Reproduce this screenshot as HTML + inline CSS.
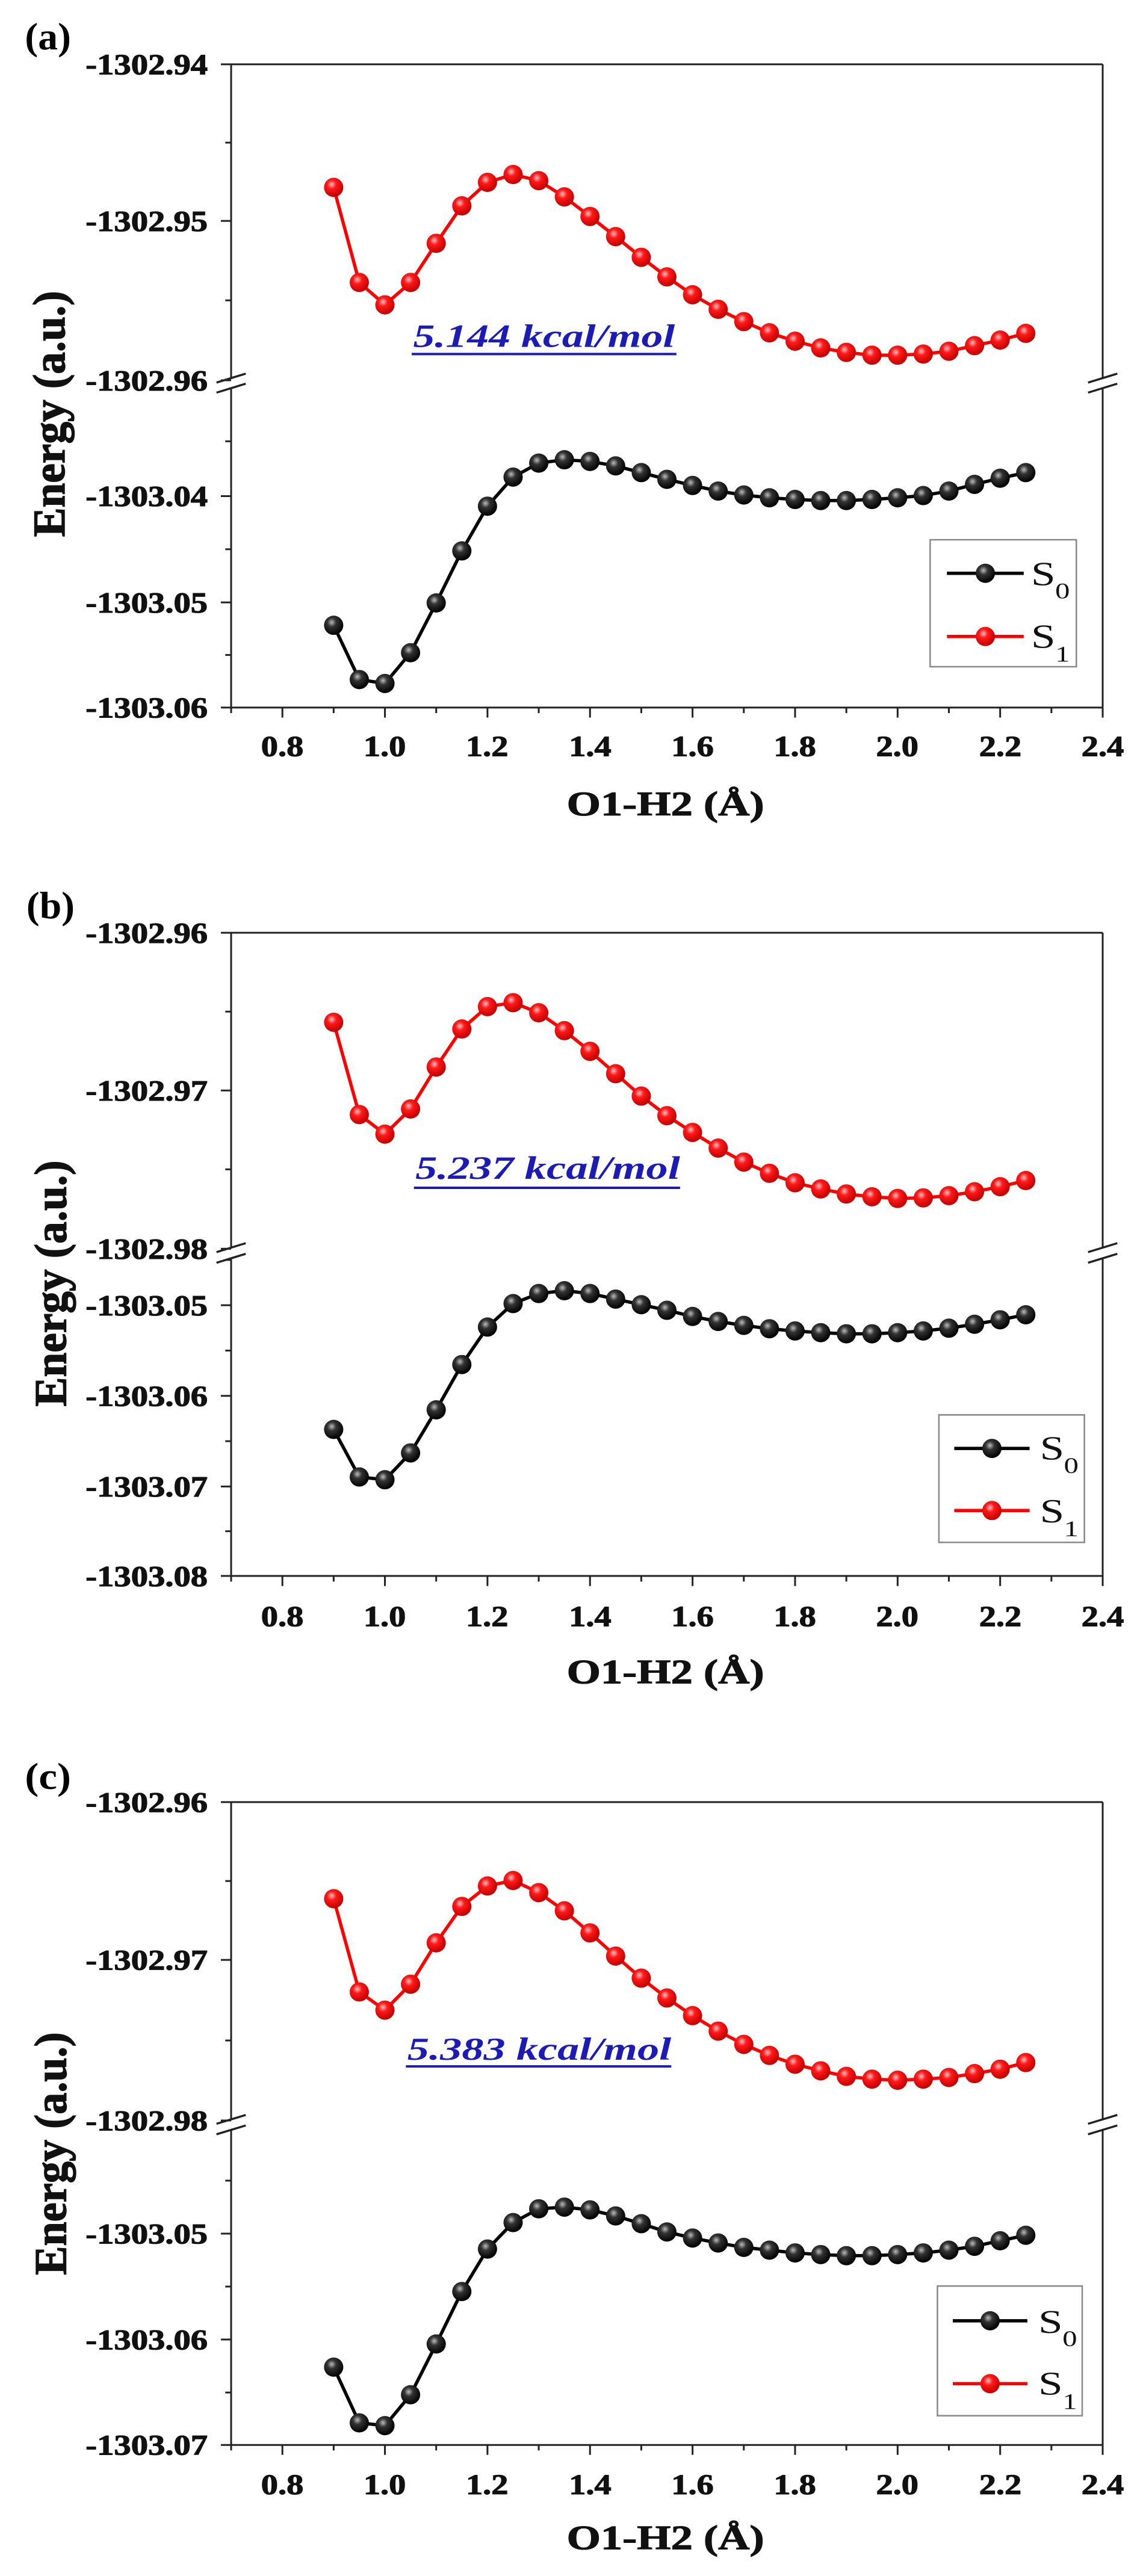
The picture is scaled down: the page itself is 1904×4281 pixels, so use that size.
<!DOCTYPE html>
<html><head><meta charset="utf-8"><style>
html,body{margin:0;padding:0;background:#fff;}
svg{display:block;}
text{font-family:"Liberation Serif","Times New Roman",serif;}
.tk{font-size:52px;font-weight:bold;fill:#111;stroke:#111;stroke-width:1.2px;}
.tt{font-size:62px;font-weight:bold;fill:#111;stroke:#111;stroke-width:1.2px;}
.an{font-size:58px;font-weight:bold;font-style:italic;fill:#1c1cb4;}
.lg{font-size:60px;fill:#111;}
.sb{font-size:40px;fill:#111;}
</style></head><body>
<svg id="s" width="1904" height="4281" viewBox="0 0 1904 4281" xmlns="http://www.w3.org/2000/svg">
<defs>
<radialGradient id="gk" cx="0.4" cy="0.35" r="0.65"><stop offset="0" stop-color="#bbb"/><stop offset="0.35" stop-color="#333"/><stop offset="1" stop-color="#000"/></radialGradient>
<radialGradient id="gr" cx="0.4" cy="0.35" r="0.65"><stop offset="0" stop-color="#ffc0c0"/><stop offset="0.35" stop-color="#ff1a1a"/><stop offset="1" stop-color="#c00000"/></radialGradient>
</defs>
<rect width="1904" height="4281" fill="#fff"/>

<g id="pa" transform="translate(0.12,0) scale(1.2148,0.9295)">
<text x="34" y="88" font-size="68" font-weight="bold" textLength="63" lengthAdjust="spacingAndGlyphs">(a)</text>
<text class="tk" x="284" y="133" text-anchor="end" textLength="167" lengthAdjust="spacingAndGlyphs">-1302.94</text>
<text class="tk" x="284" y="413" text-anchor="end" textLength="167" lengthAdjust="spacingAndGlyphs">-1302.95</text>
<text class="tk" x="284" y="698" text-anchor="end" textLength="167" lengthAdjust="spacingAndGlyphs">-1302.96</text>
<text class="tk" x="284" y="905" text-anchor="end" textLength="167" lengthAdjust="spacingAndGlyphs">-1303.04</text>
<text class="tk" x="284" y="1095" text-anchor="end" textLength="167" lengthAdjust="spacingAndGlyphs">-1303.05</text>
<text class="tk" x="284" y="1283" text-anchor="end" textLength="167" lengthAdjust="spacingAndGlyphs">-1303.06</text>
<text class="tt" x="910" y="1458" text-anchor="middle" textLength="270" lengthAdjust="spacingAndGlyphs">O1-H2 (Å)</text>
<text class="tt" transform="translate(88,740) rotate(-90)" text-anchor="middle" font-size="72" textLength="440" lengthAdjust="spacingAndGlyphs">Energy (a.u.)</text>
<text class="an" x="565" y="620" textLength="358" lengthAdjust="spacingAndGlyphs">5.144 kcal/mol</text>
<text class="lg" x="1410" y="1046">S</text><text class="sb" x="1443" y="1070">0</text>
<text class="lg" x="1410" y="1158">S</text><text class="sb" x="1443" y="1183">1</text>
</g>

<g id="pb" transform="translate(0.12,1420) scale(1.2148,0.9295)">
<text x="36" y="114" font-size="68" font-weight="bold" textLength="66" lengthAdjust="spacingAndGlyphs">(b)</text>
<text class="tk" x="284" y="158" text-anchor="end" textLength="167" lengthAdjust="spacingAndGlyphs">-1302.96</text>
<text class="tk" x="284" y="440" text-anchor="end" textLength="167" lengthAdjust="spacingAndGlyphs">-1302.97</text>
<text class="tk" x="284" y="723" text-anchor="end" textLength="167" lengthAdjust="spacingAndGlyphs">-1302.98</text>
<text class="tk" x="284" y="824" text-anchor="end" textLength="167" lengthAdjust="spacingAndGlyphs">-1303.05</text>
<text class="tk" x="284" y="986" text-anchor="end" textLength="167" lengthAdjust="spacingAndGlyphs">-1303.06</text>
<text class="tk" x="284" y="1148" text-anchor="end" textLength="167" lengthAdjust="spacingAndGlyphs">-1303.07</text>
<text class="tk" x="284" y="1308" text-anchor="end" textLength="167" lengthAdjust="spacingAndGlyphs">-1303.08</text>
<text class="tt" x="910" y="1482" text-anchor="middle" textLength="270" lengthAdjust="spacingAndGlyphs">O1-H2 (Å)</text>
<text class="tt" transform="translate(90,767) rotate(-90)" text-anchor="middle" font-size="72" textLength="440" lengthAdjust="spacingAndGlyphs">Energy (a.u.)</text>
<text class="an" x="568" y="580" textLength="362" lengthAdjust="spacingAndGlyphs">5.237 kcal/mol</text>
<text class="lg" x="1422" y="1082">S</text><text class="sb" x="1455" y="1106">0</text>
<text class="lg" x="1422" y="1194">S</text><text class="sb" x="1455" y="1219">1</text>
</g>

<g id="pc" transform="translate(0.12,2850) scale(1.2148,0.917)">
<text x="34" y="134" font-size="68" font-weight="bold" textLength="63" lengthAdjust="spacingAndGlyphs">(c)</text>
<text class="tk" x="284" y="176" text-anchor="end" textLength="167" lengthAdjust="spacingAndGlyphs">-1302.96</text>
<text class="tk" x="284" y="462" text-anchor="end" textLength="167" lengthAdjust="spacingAndGlyphs">-1302.97</text>
<text class="tk" x="284" y="753" text-anchor="end" textLength="167" lengthAdjust="spacingAndGlyphs">-1302.98</text>
<text class="tk" x="284" y="958" text-anchor="end" textLength="167" lengthAdjust="spacingAndGlyphs">-1303.05</text>
<text class="tk" x="284" y="1150" text-anchor="end" textLength="167" lengthAdjust="spacingAndGlyphs">-1303.06</text>
<text class="tk" x="284" y="1341" text-anchor="end" textLength="167" lengthAdjust="spacingAndGlyphs">-1303.07</text>
<text class="tt" x="910" y="1512" text-anchor="middle" textLength="270" lengthAdjust="spacingAndGlyphs">O1-H2 (Å)</text>
<text class="tt" transform="translate(90,795) rotate(-90)" text-anchor="middle" font-size="72" textLength="440" lengthAdjust="spacingAndGlyphs">Energy (a.u.)</text>
<text class="an" x="557" y="625" textLength="361" lengthAdjust="spacingAndGlyphs">5.383 kcal/mol</text>
<text class="lg" x="1420" y="1120">S</text><text class="sb" x="1453" y="1144">0</text>
<text class="lg" x="1420" y="1232">S</text><text class="sb" x="1453" y="1258">1</text>
</g>

<g transform="translate(0.12,0) scale(1.2148,0.9295)" class="tk" text-anchor="middle">
<text x="386" y="1352" textLength="58" lengthAdjust="spacingAndGlyphs">0.8</text><text x="526" y="1352" textLength="58" lengthAdjust="spacingAndGlyphs">1.0</text><text x="666" y="1352" textLength="58" lengthAdjust="spacingAndGlyphs">1.2</text><text x="807" y="1352" textLength="58" lengthAdjust="spacingAndGlyphs">1.4</text><text x="947" y="1352" textLength="58" lengthAdjust="spacingAndGlyphs">1.6</text><text x="1087" y="1352" textLength="58" lengthAdjust="spacingAndGlyphs">1.8</text><text x="1227" y="1352" textLength="58" lengthAdjust="spacingAndGlyphs">2.0</text><text x="1368" y="1352" textLength="58" lengthAdjust="spacingAndGlyphs">2.2</text><text x="1508" y="1352" textLength="58" lengthAdjust="spacingAndGlyphs">2.4</text>
</g>
<g transform="translate(0.12,1420) scale(1.2148,0.9295)" class="tk" text-anchor="middle">
<text x="386" y="1380" textLength="58" lengthAdjust="spacingAndGlyphs">0.8</text><text x="526" y="1380" textLength="58" lengthAdjust="spacingAndGlyphs">1.0</text><text x="666" y="1380" textLength="58" lengthAdjust="spacingAndGlyphs">1.2</text><text x="807" y="1380" textLength="58" lengthAdjust="spacingAndGlyphs">1.4</text><text x="947" y="1380" textLength="58" lengthAdjust="spacingAndGlyphs">1.6</text><text x="1087" y="1380" textLength="58" lengthAdjust="spacingAndGlyphs">1.8</text><text x="1227" y="1380" textLength="58" lengthAdjust="spacingAndGlyphs">2.0</text><text x="1368" y="1380" textLength="58" lengthAdjust="spacingAndGlyphs">2.2</text><text x="1508" y="1380" textLength="58" lengthAdjust="spacingAndGlyphs">2.4</text>
</g>
<g transform="translate(0.12,2850) scale(1.2148,0.917)" class="tk" text-anchor="middle">
<text x="386" y="1412" textLength="58" lengthAdjust="spacingAndGlyphs">0.8</text><text x="526" y="1412" textLength="58" lengthAdjust="spacingAndGlyphs">1.0</text><text x="666" y="1412" textLength="58" lengthAdjust="spacingAndGlyphs">1.2</text><text x="807" y="1412" textLength="58" lengthAdjust="spacingAndGlyphs">1.4</text><text x="947" y="1412" textLength="58" lengthAdjust="spacingAndGlyphs">1.6</text><text x="1087" y="1412" textLength="58" lengthAdjust="spacingAndGlyphs">1.8</text><text x="1227" y="1412" textLength="58" lengthAdjust="spacingAndGlyphs">2.0</text><text x="1368" y="1412" textLength="58" lengthAdjust="spacingAndGlyphs">2.2</text><text x="1508" y="1412" textLength="58" lengthAdjust="spacingAndGlyphs">2.4</text>
</g>
</svg>
<script>
var NS="http://www.w3.org/2000/svg";
function el(p,t,a){var e=document.createElementNS(NS,t);for(var k in a)e.setAttribute(k,a[k]);p.appendChild(e);return e;}
var P=[
{id:'pa',sy:0.9295,top:115,bot:1265,brk:[676,694],maj:[115,395,680,887,1077,1265],min:[255,537,789,982,1171],
s1:[335,505,545,505,435,368,326,312,323,352,387,423,460,495,527,553,575,595,610,622,630,635,635,633,628,618,608,596],
s0:[1118,1215,1222,1167,1078,985,905,853,828,822,825,833,845,857,868,878,885,890,893,895,895,893,890,886,878,866,855,845],
lb:[1272,965,1472,1192],ly:[1025,1138],lx:[1295,1400],ul:[563,925,633]},
{id:'pb',sy:0.9295,top:140,bot:1290,brk:[703,722],maj:[140,422,705,806,968,1130,1290],min:[281,563,725,887,1049,1210],
s1:[300,465,500,455,380,312,272,265,283,315,352,392,432,467,497,525,550,570,587,598,607,612,615,614,610,603,594,583],
s0:[1028,1113,1118,1070,993,912,845,803,785,780,785,795,805,815,826,835,842,848,852,855,857,857,855,852,847,840,832,823],
lb:[1284,1002,1483,1230],ly:[1062,1173],lx:[1305,1408],ul:[566,930,596]},
{id:'pc',sy:0.917,top:158,bot:1323,brk:[733,752],maj:[158,444,735,940,1132,1323],min:[301,590,844,1036,1228],
s1:[333,502,535,488,413,347,310,300,322,355,395,437,477,513,545,573,597,617,633,645,655,660,662,660,657,650,642,630],
s0:[1182,1283,1288,1232,1140,1045,968,920,895,892,897,908,922,937,948,957,965,970,975,978,980,980,978,975,970,963,953,943],
lb:[1282,1035,1480,1270],ly:[1098,1212],lx:[1303,1405],ul:[555,918,637]}];
var L=316,R=1508;
function X(v){return L+(v-0.7)*(R-L)/1.7;}
P.forEach(function(p){
 var g=document.getElementById(p.id);
 var ax=document.createElementNS(NS,'g');g.insertBefore(ax,g.firstChild);
 var rx=16/1.2148, ry=16/p.sy;
 function ln(x1,y1,x2,y2,s,w){return el(ax,'line',{x1:x1,y1:y1,x2:x2,y2:y2,stroke:s||'#222','stroke-width':w||3,'vector-effect':'non-scaling-stroke'});}
 ln(L,p.top,R,p.top);ln(L,p.bot,R,p.bot);
 ln(L,p.top,L,p.brk[0]);ln(L,p.brk[1],L,p.bot);
 ln(R,p.top,R,p.brk[0]);ln(R,p.brk[1],R,p.bot);
 p.maj.forEach(function(y){ln(L-14,y,L,y);});
 p.min.forEach(function(y){ln(L-8,y,L,y);});
 [L,R].forEach(function(x){ln(x-20,p.brk[0]+8,x+20,p.brk[0]-8,'#222',3.5);ln(x-20,p.brk[1]+8,x+20,p.brk[1]-8,'#222',3.5);});
 for(var i=0;i<=17;i++){var x=X(0.7+i*0.1);var maj=(i%2==1)||i==17;ln(x,p.bot,x,p.bot+(maj?18:10));}
 el(ax,'rect',{x:p.lb[0],y:p.lb[1],width:p.lb[2]-p.lb[0],height:p.lb[3]-p.lb[1],fill:'none',stroke:'#888','stroke-width':2.5,'vector-effect':'non-scaling-stroke'});
 el(ax,'line',{x1:p.ul[0],y1:p.ul[2],x2:p.ul[1],y2:p.ul[2],stroke:'#1c1cb4','stroke-width':4,'vector-effect':'non-scaling-stroke'});
 function series(d,col,grad){
  var pts=d.map(function(y,i){return X(0.9+i*0.05).toFixed(1)+','+y;}).join(' ');
  el(ax,'polyline',{points:pts,fill:'none',stroke:col,'stroke-width':5.5,'vector-effect':'non-scaling-stroke','stroke-linejoin':'round'});
  d.forEach(function(y,i){el(ax,'ellipse',{cx:X(0.9+i*0.05),cy:y,rx:rx,ry:ry,fill:'url(#'+grad+')'});});
 }
 series(p.s1,'#ff0000','gr');series(p.s0,'#000','gk');
 var cx=(p.lx[0]+p.lx[1])/2;
 [[p.ly[0],'#000','gk'],[p.ly[1],'#ff0000','gr']].forEach(function(q){
  el(ax,'line',{x1:p.lx[0],y1:q[0],x2:p.lx[1],y2:q[0],stroke:q[1],'stroke-width':5.5,'vector-effect':'non-scaling-stroke'});
  el(ax,'ellipse',{cx:cx,cy:q[0],rx:rx,ry:ry,fill:'url(#'+q[2]+')'});
 });
});
</script>
</body></html>
